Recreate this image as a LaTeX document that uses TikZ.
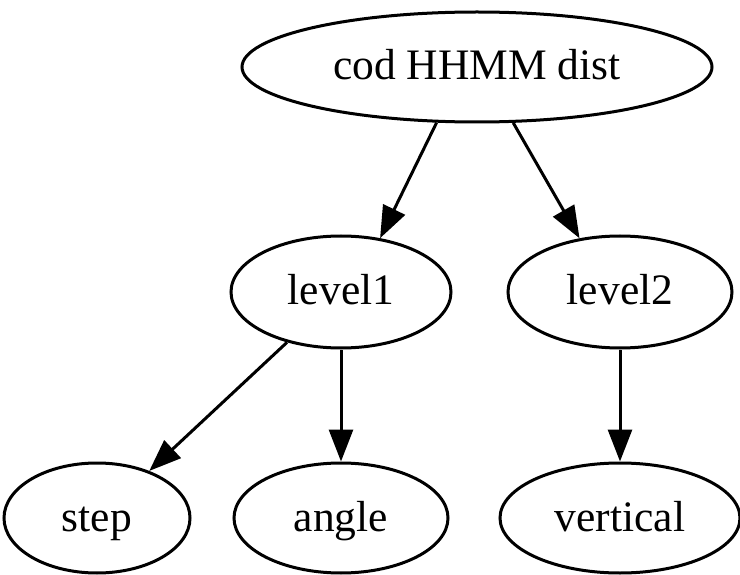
\documentclass[tikz,border=0pt]{standalone}
\usepackage{fontspec}
\setmainfont{Liberation Serif}
\usetikzlibrary{shapes.geometric,arrows.meta}
\begin{document}
\begin{tikzpicture}[x=1pt,y=-1pt,
  nd/.style={ellipse,draw=black,line width=3pt,inner sep=0pt,text height=30pt,text depth=4pt,font=\fontsize{43.5}{50}\selectfont},
  edge/.style={line width=3pt,-{Triangle[length=32pt,width=24pt]}}]
\useasboundingbox (0,0) rectangle (740,575);
\node[nd,minimum width=470pt,minimum height=110pt] (top) at (477,67) {cod HHMM dist};
\node[nd,minimum width=220pt,minimum height=112pt] (l1) at (341,292) {level1};
\node[nd,minimum width=224pt,minimum height=112pt] (l2) at (620,292) {level2};
\node[nd,minimum width=186pt,minimum height=110pt] (step) at (97,518) {step};
\node[nd,minimum width=214pt,minimum height=110pt] (angle) at (341,518) {angle};
\node[nd,minimum width=240pt,minimum height=110pt] (vert) at (620,518) {vertical};
\draw[edge] (top.234) -- (l1.54);
\draw[edge] (top.303.5) -- (l2.127.6);
\draw[edge] (l1.223.5) -- (step.42);
\draw[edge] (l1.south) -- (angle.north);
\draw[edge] (l2.south) -- (vert.north);
\end{tikzpicture}
\end{document}
